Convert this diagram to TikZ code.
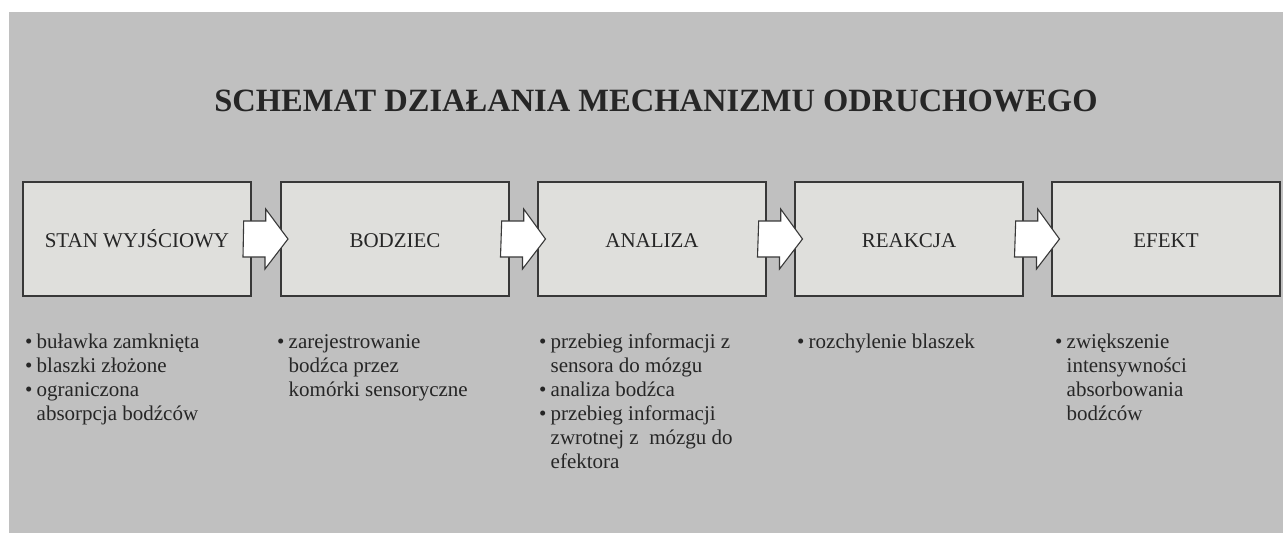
\documentclass[tikz,border=0pt]{standalone}
\usepackage{fontspec}
\setmainfont{Liberation Serif}
\usetikzlibrary{calc}
\definecolor{panel}{HTML}{C0C0C0}
\definecolor{boxfill}{HTML}{DFDFDC}
\definecolor{ink}{HTML}{262626}
\definecolor{edge}{HTML}{383838}
% bullet and hanging indent for the note lists
\newcommand{\itm}{\strut\makebox[11.5pt][l]{•}}
\newcommand{\cont}{\hspace*{11.5pt}}
\begin{document}
\begin{tikzpicture}[x=1pt,y=-1pt,
  stagebox/.style={draw=edge, line width=1.4pt, fill=boxfill,
    minimum width=228pt, minimum height=114pt, inner sep=0pt,
    text height=16pt, text depth=0pt,
    font=\fontsize{21}{24}\selectfont, text=ink},
  flowarrow/.style={draw=edge, line width=1.1pt, fill=white, line join=miter},
  notes/.style={anchor=north west, align=left, inner sep=0pt,
    font=\fontsize{21}{24}\selectfont, text=ink},
  heading/.style={anchor=base, inner sep=0pt,
    font=\fontsize{32.5}{36}\selectfont\bfseries, text=ink}]

% page and grey panel
\fill[white] (0,0) rectangle (1283,533);
\useasboundingbox (0,0) rectangle (1283,533);
\fill[panel] (9,12) rectangle (1283,533);

% title
\node[heading] (title) at (656,111) {SCHEMAT DZIAŁANIA MECHANIZMU ODRUCHOWEGO};

% stages
\node[stagebox] (b1) at (137,239)  {STAN WYJŚCIOWY};
\node[stagebox] (b2) at (395,239)  {BODZIEC};
\node[stagebox] (b3) at (652,239)  {ANALIZA};
\node[stagebox] (b4) at (909,239)  {REAKCJA};
\node[stagebox] (b5) at (1166,239) {EFEKT};

% block arrows between consecutive stages
\foreach \a/\b in {b1/b2,b2/b3,b3/b4,b4/b5}{
  \draw[flowarrow] ([xshift=-8pt]\a.east) ++(0,-18) -- ++(22,0) -- ++(0,-12)
     -- ($(\a.east)!0.5!(\b.west)+(22,0)$) -- ++(-23,30) -- ++(0,-12) -- ++(-22,0) -- cycle;
}

% notes under each stage (first baseline at y = 348)
\node[notes] (n1) at (25,331.2) {\itm buławka zamknięta\\ \itm blaszki złożone\\ \itm ograniczona\\ \cont absorpcja bodźców};
\node[notes] (n2) at (277,331.2) {\itm zarejestrowanie\\ \cont bodźca przez\\ \cont komórki sensoryczne};
\node[notes] (n3) at (539,331.2) {\itm przebieg informacji z\\ \cont sensora do mózgu\\ \itm analiza bodźca\\ \itm przebieg informacji\\ \cont zwrotnej z~\ mózgu do\\ \cont efektora};
\node[notes] (n4) at (797,331.2) {\itm rozchylenie blaszek};
\node[notes] (n5) at (1055,331.2) {\itm zwiększenie\\ \cont intensywności\\ \cont absorbowania\\ \cont bodźców};
\end{tikzpicture}
\end{document}
